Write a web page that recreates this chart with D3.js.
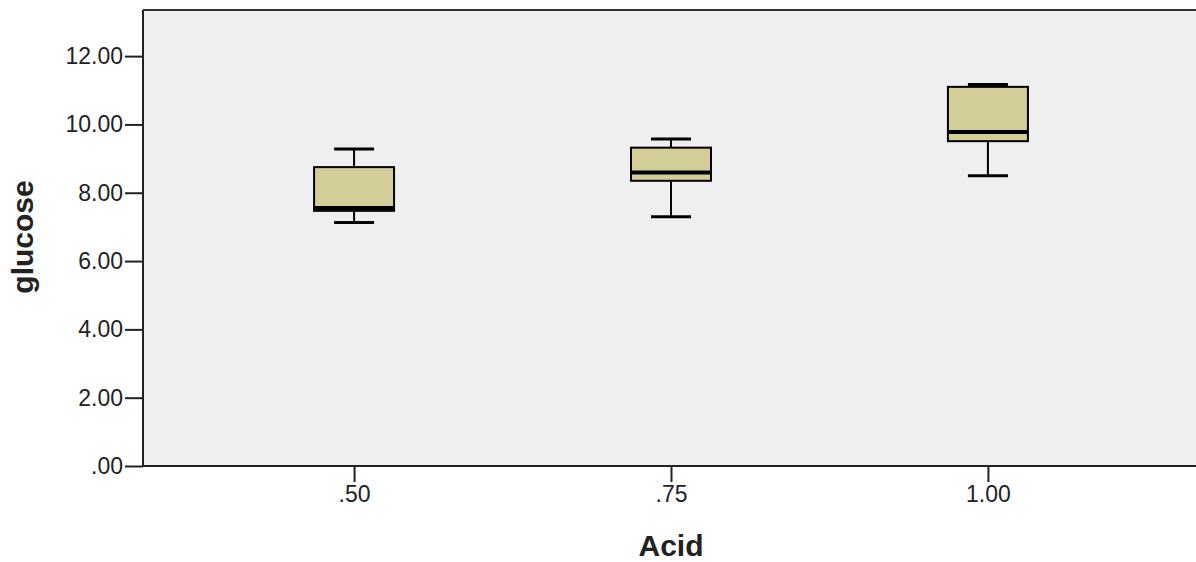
<!DOCTYPE html>
<html>
<head>
<meta charset="utf-8">
<script src="https://cdn.jsdelivr.net/npm/d3@7"></script>
<style>
  body { margin: 0; background: #fff; }
  svg { display: block; font-family: "Liberation Sans", Arial, sans-serif; }
</style>
</head>
<body>
<svg id="chart" width="1196" height="562"></svg>
<script>
// box plot summaries
const categories = [".50", ".75", "1.00"];
const whiskerLow  = [7.13, 7.30, 8.50];
const q1          = [7.47, 8.35, 9.51];
const median      = [7.55, 8.59, 9.78];
const q3          = [8.75, 9.32, 11.10];
const whiskerHigh = [9.28, 9.57, 11.17];
const yTicks = [0, 2, 4, 6, 8, 10, 12];

const svg = d3.select("#chart");
const plotLeft = 143, plotRight = 1199, plotTop = 10, plotBottom = 466;

const x = d3.scalePoint()
  .domain(categories)
  .range([plotLeft, plotRight])
  .padding(0.666);

const y = d3.scaleLinear()
  .domain([0, 13.35])
  .range([plotBottom, plotTop]);

// plot background
svg.append("rect")
  .attr("x", plotLeft).attr("y", plotTop)
  .attr("width", 1196 - plotLeft + 5).attr("height", plotBottom - plotTop)
  .attr("fill", "#efefef");

// top frame line
svg.append("line")
  .attr("x1", plotLeft).attr("x2", 1200)
  .attr("y1", plotTop).attr("y2", plotTop)
  .attr("stroke", "#333").attr("stroke-width", 2);

const fmt = d => d === 0 ? ".00" : d3.format(".2f")(d);

const yAxis = svg.append("g")
  .attr("transform", `translate(${plotLeft},0)`)
  .call(d3.axisLeft(y).tickValues(yTicks).tickFormat(fmt).tickSize(18).tickSizeOuter(0).tickPadding(2));

const xAxis = svg.append("g")
  .attr("transform", `translate(0,${plotBottom})`)
  .call(d3.axisBottom(x).tickSize(16).tickSizeOuter(0).tickPadding(4));

[yAxis, xAxis].forEach(g => {
  g.select(".domain").attr("stroke", "#222").attr("stroke-width", 2);
  g.selectAll(".tick line").attr("stroke", "#222").attr("stroke-width", 2);
  g.selectAll(".tick text")
    .attr("fill", "#222")
    .style("font-size", "23px")
    .style("font-family", "'Liberation Sans', Arial, sans-serif");
});
xAxis.select(".domain").attr("d", `M${plotLeft},0H1200`);
yAxis.select(".domain").attr("d", `M0,${plotBottom}V${plotTop}`);

// boxes
const boxW = 80, capW = 40;
const boxes = svg.append("g")
  .selectAll("g")
  .data(categories)
  .enter()
  .append("g");

boxes.append("line")
  .attr("x1", d => x(d)).attr("x2", d => x(d))
  .attr("y1", (d, i) => y(whiskerHigh[i])).attr("y2", (d, i) => y(q3[i]))
  .attr("stroke", "#000").attr("stroke-width", 2);

boxes.append("line")
  .attr("x1", d => x(d)).attr("x2", d => x(d))
  .attr("y1", (d, i) => y(q1[i])).attr("y2", (d, i) => y(whiskerLow[i]))
  .attr("stroke", "#000").attr("stroke-width", 2);

boxes.append("line")
  .attr("x1", d => x(d) - capW / 2).attr("x2", d => x(d) + capW / 2)
  .attr("y1", (d, i) => y(whiskerHigh[i])).attr("y2", (d, i) => y(whiskerHigh[i]))
  .attr("stroke", "#000").attr("stroke-width", 3);

boxes.append("line")
  .attr("x1", d => x(d) - capW / 2).attr("x2", d => x(d) + capW / 2)
  .attr("y1", (d, i) => y(whiskerLow[i])).attr("y2", (d, i) => y(whiskerLow[i]))
  .attr("stroke", "#000").attr("stroke-width", 3);

boxes.append("rect")
  .attr("x", d => x(d) - boxW / 2)
  .attr("y", (d, i) => y(q3[i]))
  .attr("width", boxW)
  .attr("height", (d, i) => y(q1[i]) - y(q3[i]))
  .attr("fill", "#d3cd98")
  .attr("stroke", "#000").attr("stroke-width", 2);

boxes.append("line")
  .attr("x1", d => x(d) - boxW / 2).attr("x2", d => x(d) + boxW / 2)
  .attr("y1", (d, i) => y(median[i])).attr("y2", (d, i) => y(median[i]))
  .attr("stroke", "#000").attr("stroke-width", 4);

// axis titles
svg.append("text")
  .attr("transform", `translate(33,237) rotate(-90)`)
  .attr("text-anchor", "middle")
  .style("font-size", "30px").style("font-weight", "bold")
  .attr("fill", "#222")
  .text("glucose");

svg.append("text")
  .attr("x", x(".75")).attr("y", 556)
  .attr("text-anchor", "middle")
  .style("font-size", "30px").style("font-weight", "bold")
  .attr("fill", "#222")
  .text("Acid");
</script>
</body>
</html>
